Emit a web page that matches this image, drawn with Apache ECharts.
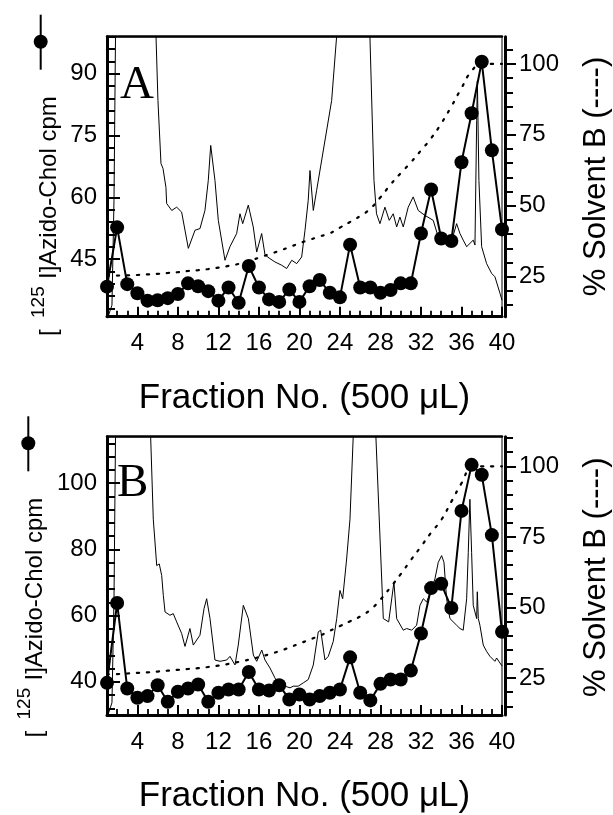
<!DOCTYPE html>
<html><head><meta charset="utf-8">
<script src="https://cdn.jsdelivr.net/npm/echarts@6/dist/echarts.min.js"></script>
<style>html,body{margin:0;padding:0;background:#fff}#c{width:613px;height:815px}</style>
</head><body><div id="c"></div>
<script>
// ---------- data ----------
const fractions = [1,2,3,4,5,6,7,8,9,10,11,12,13,14,15,16,17,18,19,20,21,22,23,24,25,26,27,28,29,30,31,32,33,34,35,36,37,38,39,40];
const xTickLabels = [4,8,12,16,20,24,28,32,36,40];

// Panel A
const cpmA = [38.3,52.7,38.9,36.7,34.9,35.0,35.5,36.5,39.1,38.4,37.2,34.9,38.1,34.4,43.3,38.1,35.2,34.6,37.6,34.6,38.4,39.9,36.8,35.7,48.5,38.1,38.1,36.8,37.5,39.1,39.1,51.2,61.9,50.0,49.4,68.5,80.4,92.9,71.4,52.2];
const solventA = [25.3,25.4,25.5,25.6,25.8,26.0,26.3,26.6,27.0,27.3,27.7,28.2,28.8,29.5,30.5,31.7,32.9,34.1,35.4,36.8,38.0,39.2,40.3,42.3,44.3,46.4,49.0,53.0,57.5,61.5,65.3,69.5,73.8,79.0,85.0,91.5,97.5,100,100,100];
const traceAFrac = [1.10,1.49,1.69,1.84,1.99,5.54,5.84,6.03,6.33,6.53,6.82,6.89,7.39,7.88,8.37,9.03,9.69,10.18,10.67,11.0,11.24,11.66,11.99,12.65,13.14,13.80,14.13,14.40,14.95,15.44,15.78,16.27,16.60,17.09,17.58,18.25,18.74,19.24,19.73,20.22,20.55,20.87,21.04,21.37,21.70,23.18,23.67,23.8,26.8,26.96,27.36,27.61,27.95,28.44,28.87,29.26,29.60,29.92,30.25,30.74,31.23,31.73,32.39,33.21,33.70,34.37,34.86,35.52,35.85,36.17,36.51,37.16,37.33,37.50,37.57,37.72,37.99,38.48,38.98,39.30,39.47,39.80,40.0];
const traceAVal = [31.0,33.8,59.3,99,140,140,99,83.5,68.2,67.0,62.4,58.5,56.8,57.6,56.4,47.6,52.0,52.4,56.8,64.1,72.6,64.1,54.4,44.7,48.0,51.2,56.0,53.6,58.1,52.8,46.7,51.2,46.0,45.1,44.3,43.5,42.7,44.7,43.9,45.5,52.0,59.3,66.5,56.8,61.7,83.5,99,140,140,99,64.1,56.0,53.6,57.6,54.4,56.0,52.8,55.2,52.8,57.6,60.1,56.8,55.6,54.4,50.4,49.6,48.0,53.6,51.2,49.6,48.0,49.6,48.4,78.6,88.3,64.1,48.0,43.9,41.5,40.7,41.1,36.7,35.0];
const leftMajorA = [45,60,75,90];
const leftMinorA = [33,36,39,42,48,51,54,57,63,66,69,72,78,81,84,87,93,96,99];

// Panel B
const cpmB = [39.7,63.8,38.0,35.2,35.7,39.0,34.0,37.0,38.0,39.2,34.0,36.7,37.7,37.7,43.0,37.7,37.4,39.0,34.7,36.2,34.7,35.7,36.7,37.7,47.4,36.7,34.4,39.4,40.7,40.7,43.4,54.6,68.3,69.6,62.3,91.6,105.5,102.5,84.3,55.1];
const solventB = [26.3,26.4,26.6,26.8,27.0,27.3,27.6,27.9,28.2,28.5,28.9,29.4,30.0,30.7,31.5,32.4,33.4,34.5,35.8,37.2,38.6,40.0,41.7,43.4,45.1,46.8,49.2,52.8,57.2,61.8,66.8,71.6,76.5,81.0,87.5,94.0,99.5,100,100,100];
const traceBFrac = [1.10,1.49,1.69,1.84,1.99,5.05,5.31,5.57,5.91,6.16,6.40,6.56,6.73,7.22,7.54,7.88,8.37,8.70,9.19,9.52,10.18,10.58,10.84,11.17,11.66,12.16,12.82,13.14,13.64,13.96,14.46,14.62,14.96,15.45,15.78,16.28,16.60,17.09,17.58,17.91,18.57,19.07,19.39,19.88,20.38,20.87,21.37,21.86,22.10,22.52,22.85,23.34,23.68,24.0,24.27,24.66,24.99,25.31,25.5,27.36,27.55,28.28,28.81,29.33,29.60,30.25,30.59,31.08,31.57,31.90,32.23,32.56,33.05,33.38,33.71,34.04,34.27,34.53,34.86,35.52,35.85,36.17,36.51,36.67,36.83,37.0,37.16,37.50,37.56,37.66,37.82,38.15,38.48,38.81,39.30,39.47,39.80,40.0];
const traceBVal = [30.1,33.7,65.1,113.9,160,160,114,89.1,75.1,75.6,72.1,66.1,61.1,60.1,60.6,58.1,54.6,50.7,56.1,51.1,54.1,62.1,65.1,59.1,46.6,46.2,46.6,47.7,45.1,51.1,63.1,63.6,59.1,48.1,46.2,49.6,46.6,44.2,41.2,39.2,38.7,38.2,38.7,38.7,39.7,40.7,45.1,55.1,55.6,46.6,47.7,52.2,59.1,67.6,65.1,77.1,89.1,114,160,160,114,59.1,58.1,70.1,59.1,55.6,56.1,55.6,57.1,63.1,65.1,64.1,68.1,71.1,76.1,78.1,76.1,65.1,59.1,57.1,56.1,55.6,65.1,79.1,95.1,79.1,63.1,59.1,67.2,59.1,57.1,51.1,49.2,47.7,46.2,47.2,45.7,44.8];
const leftMajorB = [40,60,80,100];
const leftMinorB = [32,36,44,48,52,56,64,68,72,76,84,88,92,96,104,108,112];

const rightMajor = [25,50,75,100];
const rightMinor = [15,20,30,35,40,45,55,60,65,70,80,85,90,95,105,110];
const xMinor = fractions;

// ---------- styles / layout ----------
const FONT = '"Liberation Sans", Arial, Helvetica, sans-serif';
const SERIF = '"Liberation Serif", "Times New Roman", serif';
const BLACK = '#000';
const panels = [
  {top: 36.7, height: 280, lMin: 31, lMax: 99, lMajor: leftMajorA, lMinor: leftMinorA, rMin: 10.9, rMax: 109.6,
   cpm: cpmA, sol: solventA, tf: traceAFrac, tv: traceAVal},
  {top: 436.7, height: 280.6, lMin: 30, lMax: 114, lMajor: leftMajorB, lMinor: leftMinorB, rMin: 11.9, rMax: 110.5,
   cpm: cpmB, sol: solventB, tf: traceBFrac, tv: traceBVal}
];

const grid = [], xAxis = [], yAxis = [], series = [];
panels.forEach((p, i) => {
  grid.push({left: 107, top: p.top, width: 395, height: p.height, show: true,
    borderColor: BLACK, borderWidth: 1, backgroundColor: 'transparent'});
  xAxis.push({gridIndex: i, type: 'value', min: 1, max: 40, position: 'bottom',
    axisLine: {show: true, onZero: false, lineStyle: {color: BLACK, width: 3}},
    axisTick: {show: true, inside: true, length: 10, customValues: xTickLabels, lineStyle: {color: BLACK, width: 2}},
    axisLabel: {show: true, customValues: xTickLabels, color: BLACK, fontFamily: FONT, fontSize: 24, margin: 15},
    splitLine: {show: false},
    name: 'Fraction No. (500 μL)', nameLocation: 'middle', nameGap: 64,
    nameTextStyle: {color: BLACK, fontFamily: FONT, fontSize: 35}});
  xAxis.push({gridIndex: i, type: 'value', min: 1, max: 40, position: 'bottom',
    axisLine: {show: false}, axisLabel: {show: false}, splitLine: {show: false},
    axisTick: {show: true, inside: true, length: 6, customValues: xMinor, lineStyle: {color: BLACK, width: 1.8}}});
  xAxis.push({gridIndex: i, type: 'value', min: 1, max: 40, position: 'top',
    axisLine: {show: true, onZero: false, lineStyle: {color: BLACK, width: 2.5}},
    axisTick: {show: false}, axisLabel: {show: false}, splitLine: {show: false}});
  yAxis.push({gridIndex: i, type: 'value', min: p.lMin, max: p.lMax, position: 'left',
    axisLine: {show: true, onZero: false, lineStyle: {color: BLACK, width: 3}},
    axisTick: {show: true, inside: true, length: 13, customValues: p.lMajor, lineStyle: {color: BLACK, width: 2}},
    axisLabel: {show: true, customValues: p.lMajor, color: BLACK, fontFamily: FONT, fontSize: 24, margin: 10},
    splitLine: {show: false}});
  yAxis.push({gridIndex: i, type: 'value', min: p.lMin, max: p.lMax, position: 'left',
    axisLine: {show: false}, axisLabel: {show: false}, splitLine: {show: false},
    axisTick: {show: true, inside: true, length: 8, customValues: p.lMinor, lineStyle: {color: BLACK, width: 2}}});
  yAxis.push({gridIndex: i, type: 'value', min: p.rMin, max: p.rMax, position: 'right', offset: 3,
    axisLine: {show: true, onZero: false, lineStyle: {color: BLACK, width: 3}},
    axisTick: {show: true, inside: false, length: 11, customValues: rightMajor, lineStyle: {color: BLACK, width: 2}},
    axisLabel: {show: true, customValues: rightMajor, color: BLACK, fontFamily: FONT, fontSize: 24, margin: 14},
    splitLine: {show: false}});
  yAxis.push({gridIndex: i, type: 'value', min: p.rMin, max: p.rMax, position: 'right', offset: 3,
    axisLine: {show: false}, axisLabel: {show: false}, splitLine: {show: false},
    axisTick: {show: true, inside: false, length: 8, customValues: rightMinor, lineStyle: {color: BLACK, width: 2}}});

  const xi = i * 3, yl = i * 4, yr = i * 4 + 2;
  series.push({type: 'line', xAxisIndex: xi, yAxisIndex: yl, clip: true, symbol: 'none', silent: true,
    data: p.tf.map((f, k) => [f, p.tv[k]]), lineStyle: {color: BLACK, width: 1}, z: 1});
  series.push({type: 'line', xAxisIndex: xi, yAxisIndex: yr, clip: true, symbol: 'none', smooth: true,
    data: fractions.map((f, k) => [f, p.sol[k]]), lineStyle: {color: BLACK, width: 2.2, type: [2, 8], cap: 'round'}, z: 2});
  series.push({type: 'line', xAxisIndex: xi, yAxisIndex: yl, clip: false, symbol: 'circle', symbolSize: 14,
    data: fractions.map((f, k) => [f, p.cpm[k]]), itemStyle: {color: BLACK}, lineStyle: {color: BLACK, width: 2}, z: 3});
});

function rtext(x, y, text, size, family) {
  return {type: 'text', x: x, y: y, rotation: Math.PI / 2,
    style: {text: text, fontSize: size, fontFamily: family || FONT, fill: BLACK,
      textAlign: 'left', textVerticalAlign: 'middle', align: 'left', verticalAlign: 'middle'}};
}
function ctext(x, y, text, size, family) {
  return {type: 'text', x: x, y: y, rotation: Math.PI / 2,
    style: {text: text, fontSize: size, fontFamily: family || FONT, fill: BLACK,
      textAlign: 'center', textVerticalAlign: 'middle', align: 'center', verticalAlign: 'middle'}};
}
const graphic = [];
[[0, 0], [-14, 401.5]].forEach(([dx, dy], i) => {
  graphic.push(rtext(49 + dx, 336 + dy, '[', 24));
  graphic.push(rtext(39 + dx, 318 + dy, '125', 19));
  graphic.push(rtext(49 + dx, 279 + dy, 'I]Azido-Chol cpm', 24));
  graphic.push(ctext(596, 176.5 + (i ? 400.7 : 0), '% Solvent B (----)', 31));
});
[[40.7, 41.7], [28.3, 443.3]].forEach(([cx, cy]) => {
  graphic.push({type: 'line', shape: {x1: cx, y1: cy - 27, x2: cx, y2: cy + 28}, style: {stroke: BLACK, lineWidth: 2}});
  graphic.push({type: 'circle', shape: {cx: cx, cy: cy, r: 7}, style: {fill: BLACK}});
});
graphic.push({type: 'text', x: 120, y: 86, style: {text: 'A', fontSize: 47, fontFamily: SERIF, fill: BLACK,
  textAlign: 'left', textVerticalAlign: 'middle', align: 'left', verticalAlign: 'middle'}});
graphic.push({type: 'text', x: 117, y: 484, style: {text: 'B', fontSize: 47, fontFamily: SERIF, fill: BLACK,
  textAlign: 'left', textVerticalAlign: 'middle', align: 'left', verticalAlign: 'middle'}});

const chart = echarts.init(document.getElementById('c'), null, {renderer: 'canvas'});
chart.setOption({animation: false, backgroundColor: '#fff', grid, xAxis, yAxis, series, graphic,
  textStyle: {fontFamily: FONT}});
</script></body></html>
